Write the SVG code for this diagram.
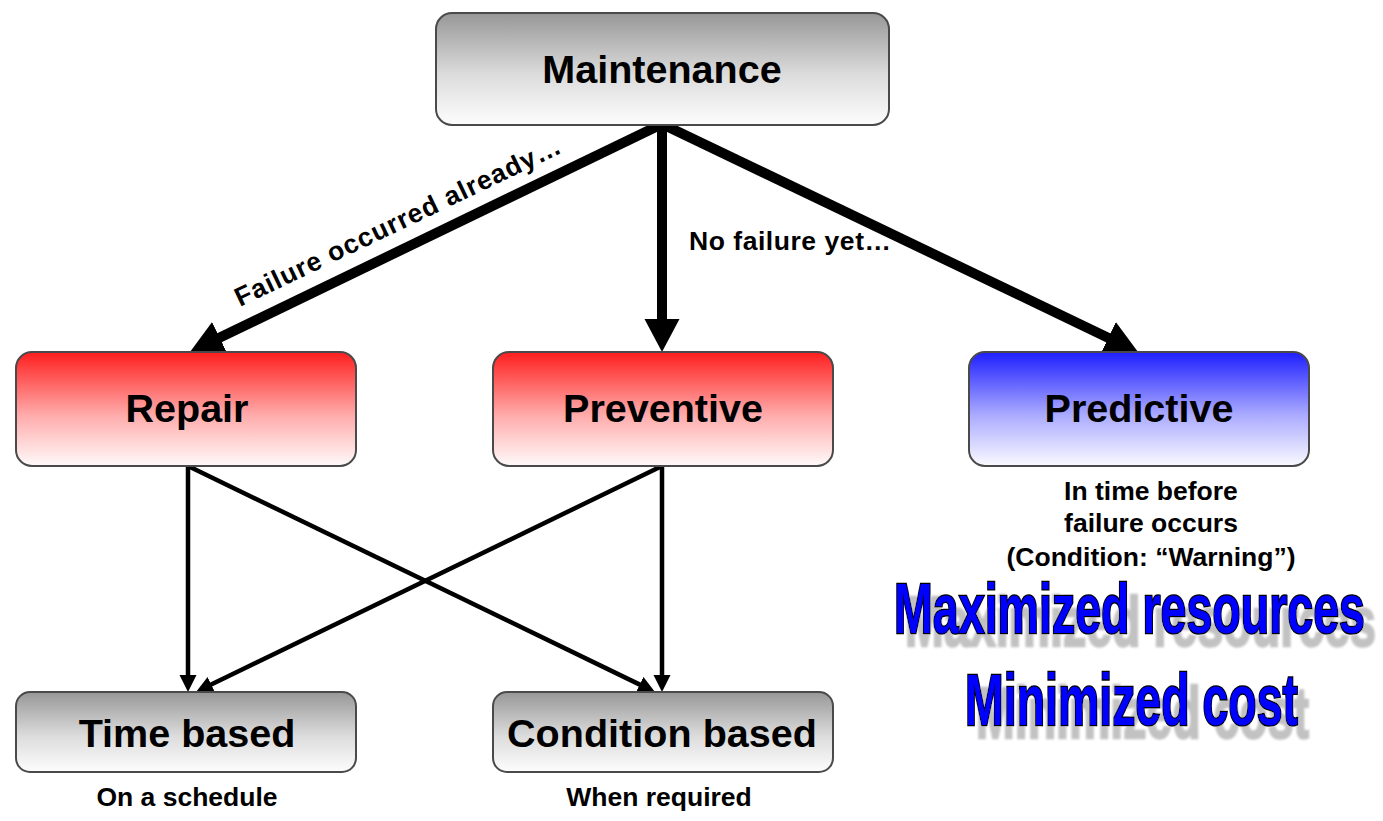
<svg xmlns="http://www.w3.org/2000/svg" width="1383" height="821" viewBox="0 0 1383 821">
  <defs>
    <linearGradient id="gGrey" x1="0" y1="0" x2="0" y2="1">
      <stop offset="0" stop-color="#979797"/>
      <stop offset="0.55" stop-color="#dcdcdc"/>
      <stop offset="1" stop-color="#fdfdfd"/>
    </linearGradient>
    <linearGradient id="gRed" x1="0" y1="0" x2="0" y2="1">
      <stop offset="0" stop-color="#ff1e1e"/>
      <stop offset="0.55" stop-color="#ffaaaa"/>
      <stop offset="1" stop-color="#fffafa"/>
    </linearGradient>
    <linearGradient id="gBlue" x1="0" y1="0" x2="0" y2="1">
      <stop offset="0" stop-color="#1e1eff"/>
      <stop offset="0.55" stop-color="#aaaaff"/>
      <stop offset="1" stop-color="#fafaff"/>
    </linearGradient>
    <marker id="bigHead" markerUnits="userSpaceOnUse" markerWidth="34" markerHeight="36" refX="13" refY="17.5" orient="auto">
      <path d="M0,0 L33,17.5 L0,35 Z" fill="#000"/>
    </marker>
    <marker id="smallHead" markerUnits="userSpaceOnUse" markerWidth="18" markerHeight="18" refX="7" refY="8.5" orient="auto">
      <path d="M0,0 L17,8.5 L0,17 Z" fill="#000"/>
    </marker>
    <!-- soft grey drop shadow behind the slogans -->
    <filter id="dropShadow" x="-5%" y="-20%" width="115%" height="160%">
      <feGaussianBlur in="SourceAlpha" stdDeviation="1.2" result="blur"/>
      <feOffset in="blur" dx="11" dy="13" result="off"/>
      <feFlood flood-color="#c2c2c2"/>
      <feComposite in2="off" operator="in" result="shadow"/>
      <feMerge>
        <feMergeNode in="shadow"/>
        <feMergeNode in="SourceGraphic"/>
      </feMerge>
    </filter>
    <style>
      .box { stroke: #4a4a4a; stroke-width: 2; }
      .label { font-family: "Liberation Sans", Arial, sans-serif; font-weight: bold; fill: #000; text-anchor: middle; }
      .start { text-anchor: start; }
      .big { font-size: 39.5px; }
      .small { font-size: 26.5px; }
      .thick { stroke: #000; stroke-width: 10; fill: none; marker-end: url(#bigHead); }
      .thin { stroke: #000; stroke-width: 4.5; fill: none; marker-end: url(#smallHead); }
      .slogan { font-family: "Liberation Sans", Arial, sans-serif; font-weight: bold; fill: #0000ff; stroke: #000; stroke-width: 2.6; paint-order: stroke; }
    </style>
  </defs>

  <rect width="1383" height="821" fill="#ffffff"/>

  <!-- connectors -->
  <g id="connectors">
    <line class="thick" x1="662" y1="124" x2="208" y2="343.3"/>
    <line class="thick" x1="662" y1="124" x2="662" y2="332"/>
    <line class="thick" x1="662" y1="124" x2="1120" y2="343.4"/>
    <line class="thin" x1="188" y1="466" x2="188" y2="682"/>
    <line class="thin" x1="188" y1="466" x2="646" y2="687.6"/>
    <line class="thin" x1="662" y1="466" x2="205" y2="687.6"/>
    <line class="thin" x1="662" y1="466" x2="662" y2="682"/>
    <text class="label small start" transform="translate(240,307) rotate(-25.6)" textLength="358">Failure occurred already…</text>
    <text class="label small start" x="689" y="250" textLength="202">No failure yet…</text>
  </g>

  <g id="maintenance">
    <rect class="box" x="436" y="13" width="453" height="112" rx="16" fill="url(#gGrey)"/>
    <text class="label big" x="662" y="83">Maintenance</text>
  </g>

  <g id="repair">
    <rect class="box" x="16" y="352" width="340" height="114" rx="16" fill="url(#gRed)"/>
    <text class="label big" x="187" y="422">Repair</text>
  </g>

  <g id="preventive">
    <rect class="box" x="493" y="352" width="340" height="114" rx="16" fill="url(#gRed)"/>
    <text class="label big" x="663" y="422">Preventive</text>
  </g>

  <g id="predictive">
    <rect class="box" x="969" y="352" width="340" height="114" rx="16" fill="url(#gBlue)"/>
    <text class="label big" x="1139" y="422">Predictive</text>
    <text class="label small" x="1151" y="500">In time before</text>
    <text class="label small" x="1151" y="532">failure occurs</text>
    <text class="label small" x="1151" y="566">(Condition: “Warning”)</text>
  </g>

  <g id="time-based">
    <rect class="box" x="16" y="692" width="340" height="80" rx="14" fill="url(#gGrey)"/>
    <text class="label big" x="187" y="747">Time based</text>
    <text class="label small" x="187" y="806">On a schedule</text>
  </g>

  <g id="condition-based">
    <rect class="box" x="493" y="692" width="340" height="80" rx="14" fill="url(#gGrey)"/>
    <text class="label big" x="662" y="747" textLength="310">Condition based</text>
    <text class="label small" x="659" y="806">When required</text>
  </g>

  <!-- outcome slogans, set in a horizontally condensed bold face -->
  <g id="outcomes" filter="url(#dropShadow)">
    <text class="slogan" transform="translate(1129.5,633) scale(0.665,1)" text-anchor="middle" font-size="70">Maximized resources</text>
    <text class="slogan" transform="translate(1131.5,725) scale(0.645,1)" text-anchor="middle" font-size="72">Minimized cost</text>
  </g>
</svg>
